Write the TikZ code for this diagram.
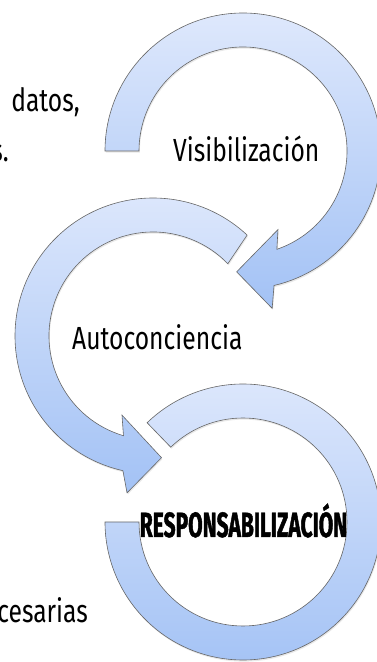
\documentclass[tikz,border=0pt]{standalone}
\usepackage{fontspec}
\setmainfont{Fira Sans}[FakeStretch=0.77]
\newfontfamily\headfont{Fira Sans}[FakeStretch=0.6, FakeBold=1.2]
\usepackage{tikz}
\usetikzlibrary{shadows}
\definecolor{arclight}{RGB}{222,232,252}
\definecolor{arcdark}{RGB}{163,194,245}
\tikzset{
  arcbody/.style={draw=black!60, line width=0.6pt, top color=arclight, bottom color=arcdark,
    drop shadow={opacity=0.18, shadow xshift=0.8pt, shadow yshift=-1.6pt}},
  stagetext/.style={inner sep=0pt, font=\fontsize{32}{36}\selectfont},
}

\begin{document}
\begin{tikzpicture}[x=1pt,y=1pt]
\useasboundingbox (0,0) rectangle (377,662);
\clip (0,0) rectangle (377,662);
% third ring, no head
\path[arcbody, shift={(243,140)}] (134:138) arc[start angle=134, end angle=-180, radius=138]
  -- (-180:104) arc[start angle=-180, end angle=134, radius=104] -- cycle;
% second arrow
\path[arcbody, shift={(153,326)}] (47:138) arc[start angle=47, end angle=257.4, radius=138]
  -- (260.6:159) -- (274:122) -- (248.6:85) -- (253.5:104)
  arc[start angle=253.5, end angle=44, radius=104] -- cycle;
% first arrow
\path[arcbody, shift={(243,511)}] (180:138) arc[start angle=180, end angle=-77, radius=138]
  -- (-79.5:160) -- (-93:121) -- (-66:86) -- (-71:104)
  arc[start angle=-71, end angle=180, radius=104] -- cycle;
\node[stagetext, anchor=base west] (visib) at (173,500) {Visibilización};
\node[stagetext, anchor=base west] (autoc) at (72,312) {Autoconciencia};
\node[inner sep=0pt, anchor=base, font=\headfont\bfseries\fontsize{35}{40}\selectfont] (respo) at (243.5,125) {RESPONSABILIZACIÓN};
% text cut at the left edge
\node[stagetext, anchor=base east] (datos) at (80,550) {datos,};
\node[stagetext, anchor=base east] (punto) at (9,500) {s.};
\node[stagetext, anchor=base east] (nece) at (88,39) {cesarias};
\end{tikzpicture}
\end{document}
